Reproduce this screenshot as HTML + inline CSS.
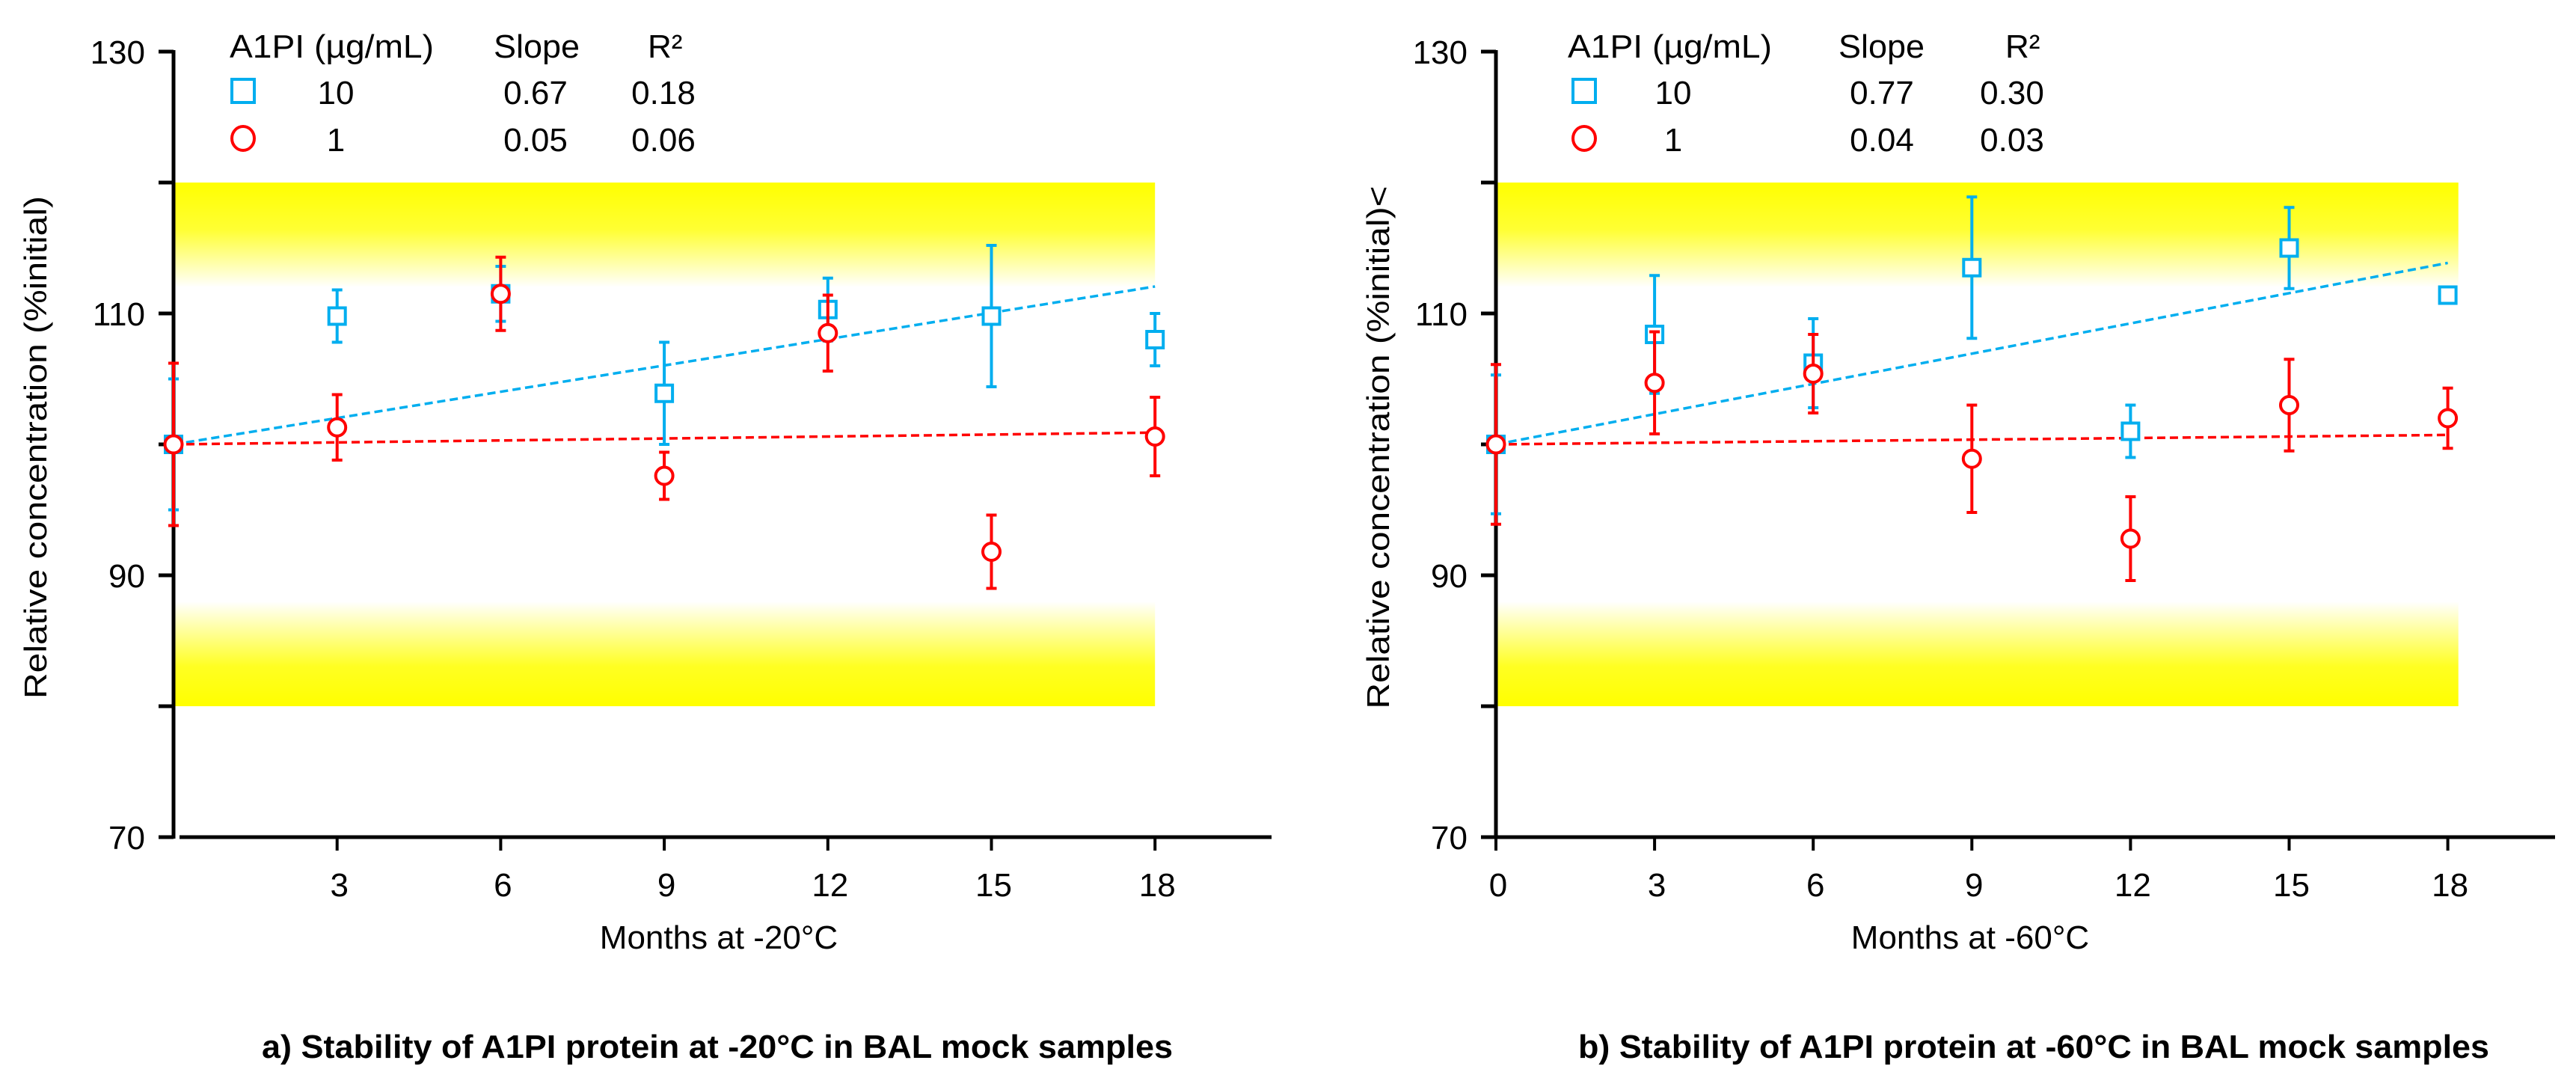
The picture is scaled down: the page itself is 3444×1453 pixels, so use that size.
<!DOCTYPE html>
<html><head><meta charset="utf-8">
<style>
html,body{margin:0;padding:0;background:#fff;}
svg{display:block;}
text{font-family:"Liberation Sans",sans-serif;fill:#000;}
</style></head>
<body>
<svg id="fig" width="3444" height="1453" viewBox="0 0 3444 1453" xmlns="http://www.w3.org/2000/svg">
<defs>
<linearGradient id="gTop" x1="0" y1="0" x2="0" y2="1">
<stop offset="0" stop-color="#ffff00"/><stop offset="0.45" stop-color="#ffff33"/><stop offset="1" stop-color="#ffffff"/>
</linearGradient>
<linearGradient id="gBot" x1="0" y1="1" x2="0" y2="0">
<stop offset="0" stop-color="#ffff00"/><stop offset="0.38" stop-color="#ffff22"/><stop offset="1" stop-color="#ffffff"/>
</linearGradient>
</defs>
</svg>
<script>
// ---- data ----
const months = [0, 3, 6, 9, 12, 15, 18];
const yTicks = [130, 120, 110, 100, 90, 80, 70];
const yTickLabels = ["130", "", "110", "", "90", "", "70"];
const xTickLabelsA = ["", "3", "6", "9", "12", "15", "18"];
const xTickLabelsB = ["0", "3", "6", "9", "12", "15", "18"];
const blueA = [100, 109.8, 111.5, 103.9, 110.3, 109.8, 108.0];
const blueErrA = [5.0, 2.0, 2.1, 3.9, 2.4, 5.4, 2.0];
const redA = [100, 101.3, 111.5, 97.6, 108.5, 91.8, 100.6];
const redErrA = [6.2, 2.5, 2.8, 1.8, 2.9, 2.8, 3.0];
const blueB = [100, 108.4, 106.2, 113.5, 101.0, 115.0, 111.4];
const blueErrB = [5.3, 4.5, 3.4, 5.4, 2.0, 3.1, 0.4];
const redB = [100, 104.7, 105.4, 98.9, 92.8, 103.0, 102.0];
const redErrB = [6.1, 3.9, 3.0, 4.1, 3.2, 3.5, 2.3];
const slopesA = [0.67, 0.05];
const slopesB = [0.77, 0.04];
const legendA = [["10", "0.67", "0.18"], ["1", "0.05", "0.06"]];
const legendB = [["10", "0.77", "0.30"], ["1", "0.04", "0.03"]];

const NS = "http://www.w3.org/2000/svg";
const svg = document.getElementById('fig');
const BLUE = "#00aeef", RED = "#ff0000";
function mk(tag, attrs, parent, txt) {
  const e = document.createElementNS(NS, tag);
  for (const k in attrs) e.setAttribute(k, attrs[k]);
  if (txt !== undefined) e.textContent = txt;
  (parent || svg).appendChild(e);
  return e;
}

function drawPanel(cfg) {
  const g = mk('g', {});
  
  
  const X = m => cfg.x0 + m * cfg.px;
  const Y = v => 69 + (130 - v) * 17.5;
  // bands
  const bt = mk('rect', {x: X(0) + 2, y: Y(120), width: X(cfg.bandEnd) - X(0) - 2, height: Y(112) - Y(120), fill: 'url(#gTop)'}, g);
  
  
  const bb = mk('rect', {x: X(0) + 2, y: Y(88), width: X(cfg.bandEnd) - X(0) - 2, height: Y(80) - Y(88), fill: 'url(#gBot)'}, g);
  
  
  // y axis
  const ya = mk('line', {x1: X(0), y1: Y(130) - 2, x2: X(0), y2: Y(70) + 2, stroke: '#000', 'stroke-width': 5}, g);
  
  
  yTicks.forEach((v, i) => {
    mk('line', {x1: X(0) - 20, y1: Y(v), x2: X(0), y2: Y(v), stroke: '#000', 'stroke-width': 5}, g);
    if (yTickLabels[i]) {
      const t = mk('text', {x: X(0) - 38, y: Y(v) + 16, 'text-anchor': 'end', 'font-size': 44}, g, yTickLabels[i]);
      
      
    }
  });
  // x axis
  const xa = mk('line', {x1: X(0) + cfg.xGap, y1: Y(70), x2: cfg.xEnd, y2: Y(70), stroke: '#000', 'stroke-width': 5}, g);
  
  
  months.forEach((m, i) => {
    if (m === 0 && !cfg.xTickLabels[i]) return;
    mk('line', {x1: X(m), y1: Y(70), x2: X(m), y2: Y(70) + 18, stroke: '#000', 'stroke-width': 4}, g);
    const t = mk('text', {x: X(m) + 3, y: 1198, 'text-anchor': 'middle', 'font-size': 44}, g, cfg.xTickLabels[i]);
    
    
  });
  const xt = mk('text', {x: cfg.xTitleX, y: 1268, 'text-anchor': 'middle', 'font-size': 44}, g, cfg.xTitle);
  
  
  const yt = mk('text', {x: 0, y: 0, 'text-anchor': 'middle', 'font-size': 42, textLength: cfg.yTitleLen, lengthAdjust: 'spacingAndGlyphs', transform: `translate(${cfg.yTitleX},${598}) rotate(-90)`}, g, cfg.yTitle);
  
  
  const cap = mk('text', {x: cfg.capX, y: 1414, 'text-anchor': 'middle', 'font-size': 44, 'font-weight': 'bold', textLength: 1218, lengthAdjust: 'spacingAndGlyphs'}, g, cfg.caption);
  
  
  // trend lines
  const series = [
    {vals: cfg.blue, err: cfg.blueErr, col: BLUE, shape: 'square', slope: cfg.slopes[0], name: 'a1pi-10'},
    {vals: cfg.red, err: cfg.redErr, col: RED, shape: 'circle', slope: cfg.slopes[1], name: 'a1pi-1'}
  ];
  series.forEach(s => {
    const tl = mk('line', {x1: X(0), y1: Y(100), x2: X(18), y2: Y(100 + s.slope * 18), stroke: s.col, 'stroke-width': 3.5, 'stroke-dasharray': '11 6'}, g);
    
    
  });
  series.forEach(s => {
    months.forEach((m, i) => {
      const cx = X(m), cy = Y(s.vals[i]);
      const e = s.err[i];
      const eb = mk('path', {d: `M${cx},${Y(s.vals[i] + e)}V${Y(s.vals[i] - e)}M${cx - 7},${Y(s.vals[i] + e)}h14M${cx - 7},${Y(s.vals[i] - e)}h14`, stroke: s.col, 'stroke-width': 4, fill: 'none'}, g);
      
      
      let mkr;
      if (s.shape === 'square') mkr = mk('rect', {x: cx - 11, y: cy - 11, width: 22, height: 22, fill: '#fff', stroke: s.col, 'stroke-width': 4}, g);
      else mkr = mk('circle', {cx: cx, cy: cy, r: 11.5, fill: '#fff', stroke: s.col, 'stroke-width': 4}, g);
      
      
    });
  });
  // legend
  const L = cfg.leg;
  const lg = mk('g', {}, g);
  
  
  mk('text', {x: L.head, y: 77, 'font-size': 44, textLength: 273, lengthAdjust: 'spacingAndGlyphs'}, lg, 'A1PI (µg/mL)');
  mk('text', {x: L.slope, y: 77, 'font-size': 44, textLength: 115, lengthAdjust: 'spacingAndGlyphs'}, lg, 'Slope');
  mk('text', {x: L.r2, y: 77, 'font-size': 44}, lg, 'R²');
  const sq = mk('rect', {x: L.mk - 15, y: 106, width: 30, height: 31, fill: '#fff', stroke: BLUE, 'stroke-width': 4}, lg);
  
  
  const ci = mk('ellipse', {cx: L.mk, cy: 185, rx: 15, ry: 16, fill: '#fff', stroke: RED, 'stroke-width': 4}, lg);
  
  
  [139, 202].forEach((by, r) => {
    const row = cfg.legend[r];
    mk('text', {x: L.conc, y: by, 'text-anchor': 'middle', 'font-size': 44}, lg, row[0]);
    mk('text', {x: L.sv, y: by, 'text-anchor': 'middle', 'font-size': 44}, lg, row[1]);
    mk('text', {x: L.rv, y: by, 'text-anchor': 'middle', 'font-size': 44}, lg, row[2]);
  });
}

drawPanel({name: 'panel-a-minus20', x0: 232, px: 72.9, xGap: 8, xEnd: 1700, bandEnd: 18,
  xTickLabels: xTickLabelsA, xTitle: 'Months at -20°C', xTitleX: 961,
  yTitle: 'Relative concentration (%initial)', yTitleX: 62, yTitleLen: 672,
  caption: 'a) Stability of A1PI protein at -20°C in BAL mock samples', capX: 959,
  blue: blueA, blueErr: blueErrA, red: redA, redErr: redErrA, slopes: slopesA, legend: legendA,
  leg: {head: 307, slope: 660, r2: 866, mk: 325, conc: 449, sv: 716, rv: 887}});
drawPanel({name: 'panel-b-minus60', x0: 2000, px: 70.7, xGap: 0, xEnd: 3416, bandEnd: 18.2,
  xTickLabels: xTickLabelsB, xTitle: 'Months at -60°C', xTitleX: 2634,
  yTitle: 'Relative concentration (%initial)<', yTitleX: 1857, yTitleLen: 699,
  caption: 'b) Stability of A1PI protein at -60°C in BAL mock samples', capX: 2719,
  blue: blueB, blueErr: blueErrB, red: redB, redErr: redErrB, slopes: slopesB, legend: legendB,
  leg: {head: 2096, slope: 2458, r2: 2681, mk: 2118, conc: 2237, sv: 2516, rv: 2690}});
</script>
</body></html>
